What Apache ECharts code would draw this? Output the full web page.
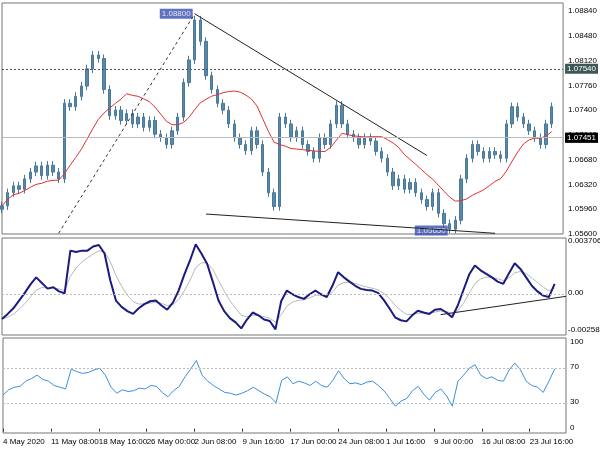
<!DOCTYPE html><html><head><meta charset="utf-8">
<script src="https://cdn.jsdelivr.net/npm/echarts@6/dist/echarts.min.js"></script>
<style>html,body{margin:0;padding:0;background:#fff}#c{width:600px;height:450px}</style></head><body><div id="c"></div>
<script>
const tickLabels=["4 May 2020","11 May 08:00","18 May 16:00","26 May 00:00","2 Jun 08:00","9 Jun 16:00","17 Jun 00:00","24 Jun 08:00","1 Jul 16:00","9 Jul 00:00","16 Jul 08:00","23 Jul 16:00"];
const closes=[1.0601,1.0620,1.0630,1.0625,1.0640,1.0650,1.0659,1.0645,1.0660,1.0650,1.0640,1.0750,1.0745,1.0760,1.0775,1.0800,1.0820,1.0815,1.0770,1.0732,1.0740,1.0725,1.0735,1.0720,1.0730,1.0715,1.0725,1.0705,1.0700,1.0690,1.0710,1.0730,1.0780,1.0813,1.0871,1.0840,1.0790,1.0770,1.0750,1.0740,1.0720,1.0700,1.0690,1.0681,1.0710,1.0690,1.0650,1.0620,1.0600,1.0730,1.0720,1.0700,1.0710,1.0690,1.0680,1.0670,1.0700,1.0690,1.0720,1.0747,1.0720,1.0705,1.0700,1.0690,1.0700,1.0695,1.0680,1.0670,1.0650,1.0630,1.0640,1.0625,1.0635,1.0620,1.0610,1.0600,1.0620,1.0590,1.0575,1.0567,1.0580,1.0640,1.0670,1.0690,1.0680,1.0670,1.0680,1.0675,1.0670,1.0720,1.0745,1.0730,1.0720,1.0710,1.0700,1.0690,1.0720,1.0745];
const macd=[-1.76,-1.4,-1.0,-0.45,0.1,0.7,1.2,0.8,0.4,0.5,0.2,0.07,3.1,3.0,3.1,3.1,3.4,3.5,2.9,1.0,-0.45,-0.9,-1.2,-1.4,-1.0,-0.7,-0.5,-0.45,-0.8,-1.1,-0.6,0.26,1.4,2.4,3.55,2.9,2.17,0.9,-0.45,-1.2,-1.7,-2.0,-2.43,-1.8,-1.3,-1.5,-1.8,-1.9,-2.5,-0.5,0.26,0.0,-0.2,-0.33,0.0,0.26,0.0,-0.2,0.6,1.57,1.2,0.9,0.6,0.38,0.3,0.26,0.1,-0.4,-1.0,-1.64,-1.85,-1.93,-1.5,-1.17,-1.3,-1.4,-1.1,-1.05,-1.3,-1.64,-0.8,0.3,1.4,2.05,1.7,1.45,1.2,0.9,0.74,1.5,2.2,1.8,1.2,0.6,0.2,-0.1,-0.2,0.74];
const rsi=[39,45,48,49,55,58,62,57,55,50,48,46,69,66,64,65,68,70,62,48,41,45,43,44,47,46,50,49,42,37,44,49,60,69,79,62,55,50,46,42,41,39,41,44,48,44,40,37,30,56,60,52,55,53,50,55,50,48,56,67,58,52,53,51,54,55,50,44,35,26,32,35,44,49,40,33,42,46,38,26,55,62,70,74,62,58,60,56,55,68,76,68,55,50,48,42,55,69];
const priceLevels=[1.0754,1.0669];
const lastPrice=1.07451;
const resTrend=[[34,1.0880],[75,1.0674]];
const supTrend=[[36,1.0589],[87,1.0561]];
const dashTrend=[[10,1.0561],[34,1.0880]];
const macdTrend=[[77,-1.45],[99,-0.15]];
const macdTicks=[0.003706,0,-0.002585];
const rsiTicks=[100,70,30,0];

const N=100, LBL_STEP=8.42;
const cats=Array.from({length:N},(_,i)=>String(i));
const candles=closes.map((c,i)=>{const o=i?closes[i-1]:c-0.0005;return [o,c,Math.min(o,c)-0.0006,Math.max(o,c)+0.0006];});
const ma=closes.map((c,i)=>{const s=closes.slice(Math.max(0,i-11),i+1);return +(s.reduce((a,b)=>a+b,0)/s.length).toFixed(5);});
const macdV=macd.map(v=>v/1000);
let e=macdV[0];const sig=macdV.map(v=>(e=e+0.35*(v-e)));
const F='"Liberation Sans",Arial,sans-serif';
const ch=echarts.init(document.getElementById('c'));
const xa=g=>({type:'category',gridIndex:g,data:cats,boundaryGap:false,axisLine:{show:false},axisTick:{show:false},axisLabel:{show:false},splitLine:{show:false}});
const lvl=(v,bg)=>({yAxis:v,label:{show:true,position:'end',formatter:v.toFixed(5),backgroundColor:bg,color:'#fff',padding:[1,2],fontSize:8,fontFamily:F,distance:2}});
ch.setOption({animation:false,
 grid:[{left:2,right:34,top:3,height:231,show:true,borderColor:'#777'},{left:2,right:34,top:238,height:97,show:true,borderColor:'#777'},{left:2,right:34,top:338,height:95,show:true,borderColor:'#777'}],
 xAxis:[xa(0),xa(1),{type:'value',gridIndex:2,min:0,max:N-1,interval:LBL_STEP,axisLine:{show:false},splitLine:{show:false},
   axisTick:{show:true,length:3,lineStyle:{color:'#333'}},
   axisLabel:{align:'left',fontSize:8,fontFamily:F,color:'#000',margin:5,showMaxLabel:false,formatter:v=>tickLabels[Math.round(v/LBL_STEP)]||''}}],
 yAxis:[{type:'value',gridIndex:0,position:'right',min:1.0560,max:1.08957,interval:0.0036,axisLine:{show:false},axisTick:{show:false},splitLine:{show:false},
   axisLabel:{fontSize:8,fontFamily:F,color:'#000',margin:5,formatter:v=>v.toFixed(5),showMaxLabel:false}},
  {type:'value',gridIndex:1,position:'right',min:-0.0029,max:0.0040,axisLabel:{show:false},axisLine:{show:false},axisTick:{show:false},splitLine:{show:false}},
  {type:'value',gridIndex:2,position:'right',min:-5,max:105,axisLabel:{show:false},axisLine:{show:false},axisTick:{show:false},splitLine:{show:false}}],
 graphic:[{type:'text',left:5,top:5,style:{text:'AUDNZD.H4  1.07323 1.07505 1.07311 1.07451',fontSize:8,fontFamily:F,fill:'#000'}},
  {type:'text',left:312,top:36,style:{text:'ActionForex.com',fontSize:22,fontFamily:F,fill:'#c8c8c8'}},
  {type:'text',left:5,top:241,style:{text:'MACD(12,26,9) 0.000696 0.000049',fontSize:8,fontFamily:F,fill:'#000'}},
  {type:'text',left:5,top:341,style:{text:'RSI(14) 68.8231',fontSize:8,fontFamily:F,fill:'#000'}}],
 series:[
  {type:'candlestick',xAxisIndex:0,yAxisIndex:0,data:candles,barWidth:3,itemStyle:{color:'#5a88a8',color0:'#5a88a8',borderColor:'#4a7898',borderColor0:'#4a7898'}},
  {type:'line',xAxisIndex:0,yAxisIndex:0,data:ma,symbol:'none',lineStyle:{color:'#e03030',width:1},
   markLine:{symbol:'none',silent:true,lineStyle:{color:'#555',type:[2,2],width:1},data:[lvl(priceLevels[0],'#3d5757'),lvl(priceLevels[1],'#3d5757'),
    Object.assign(lvl(lastPrice,'#000'),{lineStyle:{color:'#bbb',type:'solid'}})]}},
  {type:'line',xAxisIndex:0,yAxisIndex:0,data:resTrend,symbol:'none',lineStyle:{color:'#222',width:1}},
  {type:'line',xAxisIndex:0,yAxisIndex:0,data:supTrend,symbol:'none',lineStyle:{color:'#222',width:1}},
  {type:'line',xAxisIndex:0,yAxisIndex:0,data:dashTrend,symbol:'none',lineStyle:{color:'#333',width:1,type:[3,3]}},
  {type:'scatter',xAxisIndex:0,yAxisIndex:0,data:[[34,1.0880]],symbolSize:0,label:{show:true,position:'left',distance:2,formatter:'1.08800',fontSize:8,fontFamily:F,color:'#fff',backgroundColor:'#3a4fb0',borderColor:'#223',padding:[1,2]}},
  {type:'scatter',xAxisIndex:0,yAxisIndex:0,data:[[79,1.0565]],symbolSize:0,label:{show:true,position:'left',distance:2,formatter:'1.05650',fontSize:8,fontFamily:F,color:'#fff',backgroundColor:'#3a4fb0',borderColor:'#223',padding:[1,2]}},
  {type:'line',xAxisIndex:1,yAxisIndex:1,data:sig,symbol:'none',lineStyle:{color:'#b8b8b8',width:1},
   markLine:{symbol:'none',silent:true,label:{show:false},lineStyle:{color:'#bbb',type:[2,2],width:1},data:[{yAxis:0}]}},
  {type:'line',xAxisIndex:1,yAxisIndex:1,data:macdV,symbol:'none',lineStyle:{color:'#1a1a80',width:2}},
  {type:'line',xAxisIndex:1,yAxisIndex:1,data:macdTrend.map(p=>[p[0],p[1]/1000]),symbol:'none',lineStyle:{color:'#222',width:1}},
  {type:'line',xAxisIndex:2,yAxisIndex:2,data:rsi.map((v,i)=>[i,v]),symbol:'none',lineStyle:{color:'#3a8ee0',width:1},
   markLine:{symbol:'none',silent:true,label:{show:false},lineStyle:{color:'#bbb',type:[2,2],width:1},data:[{yAxis:70},{yAxis:30}]}}
 ]});
const g=[];
macdTicks.forEach(v=>{const p=ch.convertToPixel({gridIndex:1},[0,v]);g.push({type:'text',left:568,top:p[1]-5,style:{text:v===0?'0.00':String(v),fontSize:8,fontFamily:F,fill:'#000'}});});
rsiTicks.forEach(v=>{const p=ch.convertToPixel({gridIndex:2},[0,v]);g.push({type:'text',left:570,top:p[1]-5,style:{text:String(v),fontSize:8,fontFamily:F,fill:'#000'}});});
ch.setOption({graphic:g});
</script></body></html>
